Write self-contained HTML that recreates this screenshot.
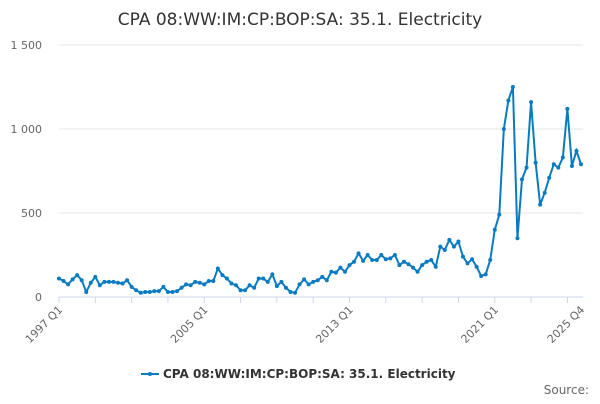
<!DOCTYPE html>
<html><head><meta charset="utf-8"><style>
body{margin:0;background:#fff;font-family:"DejaVu Sans","Liberation Sans",sans-serif}
svg text{font-family:"DejaVu Sans","Liberation Sans",sans-serif}
</style></head><body>
<svg id="chart" width="600" height="400">
<text x="300" y="25" text-anchor="middle" font-size="17" fill="#333">CPA 08:WW:IM:CP:BOP:SA: 35.1. Electricity</text>
<g id="grid"></g><g id="xaxis"></g><g id="series"></g>
<g>
<line x1="141" y1="374" x2="159" y2="374" stroke="#0a7bc1" stroke-width="2"/>
<circle cx="150" cy="374" r="2" fill="#0a7bc1"/>
<text x="163" y="378" font-size="12" font-weight="bold" fill="#333">CPA 08:WW:IM:CP:BOP:SA: 35.1. Electricity</text>
</g>
<text x="589" y="394" text-anchor="end" font-size="12" fill="#666">Source:</text>
</svg>
<script>
const yTicks=[0,500,1000,1500];
const yTickLabels=["0","500","1 000","1 500"];
const xTickLabels=["1997 Q1","2005 Q1","2013 Q1","2021 Q1","2025 Q4"];
const xTickIdx=[0,32,64,96,115];
const values=[110,95,75,105,130,100,30,85,120,70,90,90,90,85,80,100,60,40,25,
30,30,35,35,60,30,30,35,55,75,70,90,85,75,95,95,170,130,110,80,70,40,40,70,55,110,110,90,
135,65,90,55,30,25,75,105,75,90,100,120,100,150,145,175,150,190,210,260,215,250,220,220,
250,225,230,250,190,210,195,175,150,190,210,220,180,300,280,340,300,330,240,200,225,180,125,135,220,
400,490,1000,1170,1250,350,700,770,1160,800,550,620,710,790,770,830,1120,780,870,790];
const x0=59,x1=581,y0=297,yTop=45;
const xs=i=>x0+(x1-x0)*i/(values.length-1);
const ys=v=>y0-(y0-yTop)*v/1500;
const NS="http://www.w3.org/2000/svg";
const grid=document.getElementById('grid');
yTicks.forEach((t,k)=>{
 const l=document.createElementNS(NS,'line');
 l.setAttribute('x1',x0);l.setAttribute('x2',x1+2);l.setAttribute('y1',ys(t));l.setAttribute('y2',ys(t));
 l.setAttribute('stroke',t===0?'#ccd6eb':'#e6e6e6');
 
 
 grid.appendChild(l);
 const tx=document.createElementNS(NS,'text');
 tx.setAttribute('x',42);tx.setAttribute('y',ys(t)+4);tx.setAttribute('text-anchor','end');
 tx.setAttribute('font-size','11');tx.setAttribute('fill','#666');tx.textContent=yTickLabels[k];
 
 
 grid.appendChild(tx);
});
const xa=document.getElementById('xaxis');
for(let i=0;i<values.length;i+=8){
 const l=document.createElementNS(NS,'line');
 l.setAttribute('x1',xs(i));l.setAttribute('x2',xs(i));l.setAttribute('y1',y0);l.setAttribute('y2',y0+6);
 l.setAttribute('stroke','#ccd6eb');
 
 
 xa.appendChild(l);
}
xTickIdx.forEach((idx,k)=>{
 const x=xs(idx),y=y0+12;
 const tx=document.createElementNS(NS,'text');
 tx.setAttribute('x',x+2);tx.setAttribute('y',y+4);tx.setAttribute('text-anchor','end');
 tx.setAttribute('font-size','11');tx.setAttribute('fill','#666');
 tx.setAttribute('transform','rotate(-45 '+x+' '+y+')');tx.textContent=xTickLabels[k];
 
 
 xa.appendChild(tx);
});
const s=document.getElementById('series');
const p=document.createElementNS(NS,'polyline');
p.setAttribute('points',values.map((v,i)=>xs(i)+','+ys(v)).join(' '));
p.setAttribute('fill','none');p.setAttribute('stroke','#0a7bc1');p.setAttribute('stroke-width','2');


s.appendChild(p);
values.forEach((v,i)=>{
 const c=document.createElementNS(NS,'circle');
 c.setAttribute('cx',xs(i));c.setAttribute('cy',ys(v));c.setAttribute('r',2);c.setAttribute('fill','#0a7bc1');
 
 
 s.appendChild(c);
});
</script>
</body></html>
